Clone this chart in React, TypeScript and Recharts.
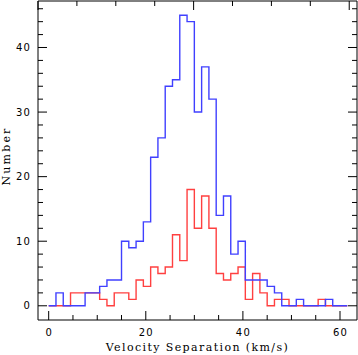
import { LineChart, Line, XAxis, YAxis } from "recharts";

// left edge of each 1.5 km/s bin, plus the closing edge
const binStart = [
  0, 1.5, 3, 4.5, 6, 7.5, 9, 10.5, 12, 13.5, 15, 16.5, 18, 19.5, 21, 22.5, 24, 25.5, 27, 28.5,
  30, 31.5, 33, 34.5, 36, 37.5, 39, 40.5, 42, 43.5, 45, 46.5, 48, 49.5, 51, 52.5, 54, 55.5, 57, 58.5,
  60, 61.5,
];

// counts per bin (last entry closes the histogram)
const blueCounts = [
  0, 2, 0, 0, 0, 2, 2, 3, 4, 4, 10, 9, 10, 13, 23, 26, 34, 35, 45, 44,
  30, 37, 32, 14, 17, 8, 10, 4, 4, 4, 3, 2, 0, 0, 1, 0, 0, 0, 1, 0,
  0, 0,
];
const redCounts = [
  0, 0, 0, 2, 2, 2, 2, 1, 0, 2, 2, 1, 4, 3, 6, 5, 6, 11, 7, 18,
  12, 17, 12, 5, 4, 5, 6, 1, 5, 2, 0, 1, 1, 0, 0, 0, 0, 1, 0, 0,
  0, 0,
];

const xTicks = [0, 5, 10, 15, 20, 25, 30, 35, 40, 45, 50, 55, 60];
const xLabels = [0, 20, 40, 60];
const yTicks = [0, 2, 4, 6, 8, 10, 12, 14, 16, 18, 20, 22, 24, 26, 28, 30, 32, 34, 36, 38, 40, 42, 44, 46];
const yLabels = [0, 10, 20, 30, 40];

const data = binStart.map((v, i) => ({ v, blue: blueCounts[i], red: redCounts[i] }));

const X_DOMAIN = [-2.2, 63.5];
const Y_DOMAIN = [-2.2, 47.2];

const tickFont = { fontFamily: "DejaVu Sans", fontSize: 10, letterSpacing: 1.2, fill: "#000" };
const titleFont = { fontFamily: "DejaVu Serif", fontSize: 11, letterSpacing: 1.4, fill: "#000" };

// ticks point into the plot box; dir tells which way
const makeXTick = (dir: number, withLabel: boolean) => (props: any) => {
  const { x, y, payload } = props;
  const major = xLabels.includes(payload.value);
  const len = major ? 9 : 5;
  return (
    <g>
      <line x1={x} y1={y} x2={x} y2={y + dir * len} stroke="#000" strokeWidth={1} />
      {withLabel && major && (
        <text x={x + 0.5} y={y + 15.5} textAnchor="middle" style={tickFont}>
          {payload.value}
        </text>
      )}
    </g>
  );
};

const makeYTick = (dir: number, withLabel: boolean) => (props: any) => {
  const { x, y, payload } = props;
  const major = yLabels.includes(payload.value);
  const len = major ? 9 : 5;
  return (
    <g>
      <line x1={x} y1={y} x2={x + dir * len} y2={y} stroke="#000" strokeWidth={1} />
      {withLabel && major && (
        <text x={x - 7} y={y + 3.6} textAnchor="end" style={tickFont}>
          {payload.value}
        </text>
      )}
    </g>
  );
};

export default function App() {
  return (
    <div style={{ position: "absolute", left: 0, top: 0 }}>
      <LineChart width={358} height={355} data={data} margin={{ top: 0, right: 0, bottom: 0, left: 0 }}>
        <XAxis
          dataKey="v"
          type="number"
          domain={X_DOMAIN}
          ticks={xTicks}
          interval={0}
          allowDataOverflow
          height={35}
          tickSize={0}
          tickMargin={0}
          tickLine={false}
          axisLine={{ stroke: "#000" }}
          tick={makeXTick(-1, true)}
          label={{
            content: () => (
              <text x={197.5} y={351} textAnchor="middle" style={titleFont}>
                Velocity Separation (km/s)
              </text>
            ),
          }}
        />
        <XAxis
          xAxisId="top"
          orientation="top"
          type="number"
          domain={X_DOMAIN}
          ticks={xTicks}
          interval={0}
          allowDataOverflow
          height={1}
          tickSize={0}
          tickMargin={0}
          tickLine={false}
          axisLine={{ stroke: "#000" }}
          tick={makeXTick(1, false)}
        />
        <YAxis
          type="number"
          domain={Y_DOMAIN}
          ticks={yTicks}
          interval={0}
          allowDataOverflow
          width={38}
          tickSize={0}
          tickMargin={0}
          tickLine={false}
          axisLine={{ stroke: "#000" }}
          tick={makeYTick(1, true)}
          label={{
            content: () => (
              <text transform="translate(9.5,156) rotate(-90)" textAnchor="middle" style={{ ...titleFont, letterSpacing: 2.2 }}>
                Number
              </text>
            ),
          }}
        />
        <YAxis
          yAxisId="right"
          orientation="right"
          type="number"
          domain={Y_DOMAIN}
          ticks={yTicks}
          interval={0}
          allowDataOverflow
          width={1}
          tickSize={0}
          tickMargin={0}
          tickLine={false}
          axisLine={{ stroke: "#000" }}
          tick={makeYTick(-1, false)}
        />
        <Line
          type="stepAfter"
          dataKey="red"
          stroke="#ff4040"
          strokeWidth={1.4}
          dot={false}
          activeDot={false}
          isAnimationActive={false}
        />
        <Line
          type="stepAfter"
          dataKey="blue"
          stroke="#4040ff"
          strokeWidth={1.4}
          dot={false}
          activeDot={false}
          isAnimationActive={false}
        />
      </LineChart>
    </div>
  );
}
